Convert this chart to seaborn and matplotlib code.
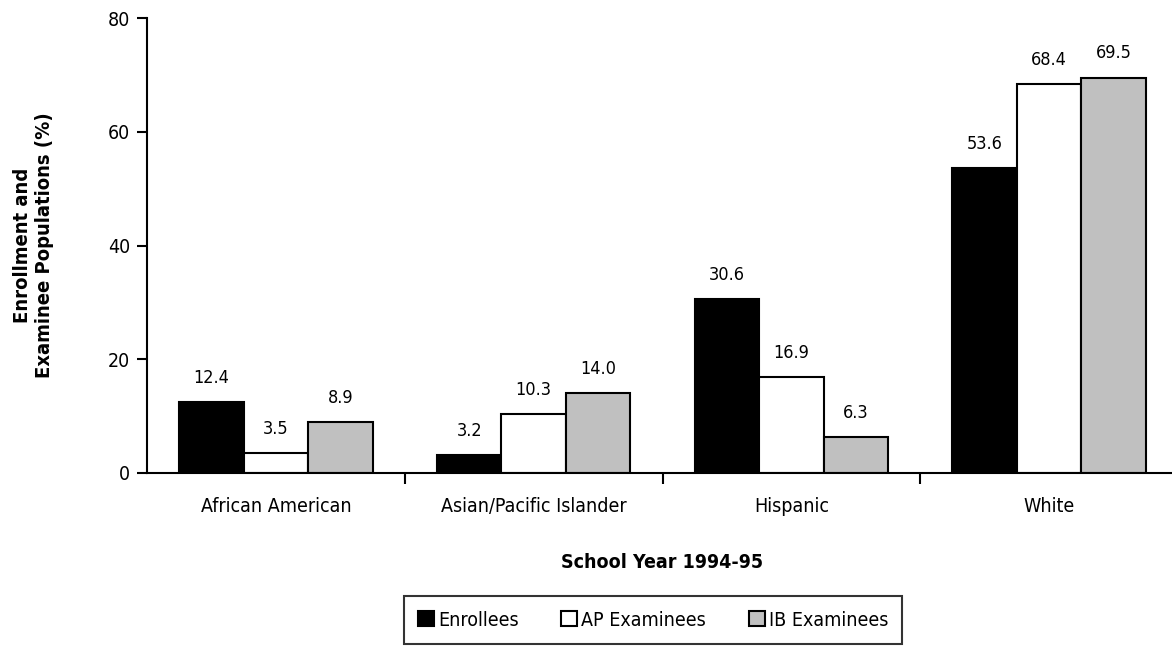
import matplotlib
matplotlib.use('Agg')
import matplotlib.pyplot as plt
import seaborn as sns
import pandas as pd
from matplotlib.patches import Patch

groups = ['African American', 'Asian/Pacific Islander', 'Hispanic', 'White']
series = ['Enrollees', 'AP Examinees', 'IB Examinees']
enrollees = [12.4, 3.2, 30.6, 53.6]
ap_examinees = [3.5, 10.3, 16.9, 68.4]
ib_examinees = [8.9, 14.0, 6.3, 69.5]
colors = ['#000000', '#ffffff', '#c0c0c0']

rows = []
for name, vals in zip(series, [enrollees, ap_examinees, ib_examinees]):
    for g, v in zip(groups, vals):
        rows.append({'Group': g, 'Series': name, 'Value': v})
df = pd.DataFrame(rows)

sns.set_style('white')
plt.rcParams['font.family'] = ['DejaVu Sans']
plt.rcParams['font.stretch'] = 'condensed'
for key in ['text.color', 'axes.labelcolor', 'xtick.color', 'ytick.color']:
    plt.rcParams[key] = 'black'

fig = plt.figure(figsize=(11.72, 6.48), dpi=100)
ax = fig.add_axes([147 / 1172, 1 - 473 / 648, 1031 / 1172, (473 - 18) / 648])

sns.barplot(data=df, x='Group', y='Value', hue='Series', palette=colors,
            width=0.75, edgecolor='black', linewidth=1.5, ax=ax, legend=False)

for cont in ax.containers:
    ax.bar_label(cont, fmt='%.1f', padding=11, fontsize=13)

ax.set_ylim(0, 80)
ax.set_xlim(-0.5, 3.5)
ax.set_yticks([0, 20, 40, 60, 80])
ax.tick_params(axis='y', direction='out', length=7, width=1.5, labelsize=14, left=True, pad=5)
ax.set_xticks(range(4))
ax.set_xticklabels(groups, fontsize=14)
ax.set_xticks([0.5, 1.5, 2.5, 3.5], minor=True)
ax.tick_params(axis='x', which='major', length=0, pad=17)
ax.tick_params(axis='x', which='minor', direction='out', length=8, width=1.5, bottom=True)
ax.spines['top'].set_visible(False)
ax.spines['right'].set_visible(False)
for s in ['left', 'bottom']:
    ax.spines[s].set_linewidth(1.5)
    ax.spines[s].set_color('black')

ax.set_xlabel('School Year 1994-95', fontsize=14, fontweight='bold', labelpad=27)
ax.set_ylabel('Enrollment and\nExaminee Populations (%)', fontsize=14.5, fontweight='bold', labelpad=39)

handles = [Patch(facecolor=c, edgecolor='black', linewidth=1.5) for c in colors]
leg = fig.legend(handles, series, loc='center', bbox_to_anchor=(653 / 1172, 1 - 620 / 648),
                 ncol=3, fontsize=14, frameon=True, fancybox=False, edgecolor='black',
                 handlelength=0.82, handleheight=0.82, handletextpad=0.2, columnspacing=2.2,
                 borderpad=0.75, borderaxespad=0)
leg.get_frame().set_linewidth(1.5)

fig.savefig('out.png', dpi=100)
